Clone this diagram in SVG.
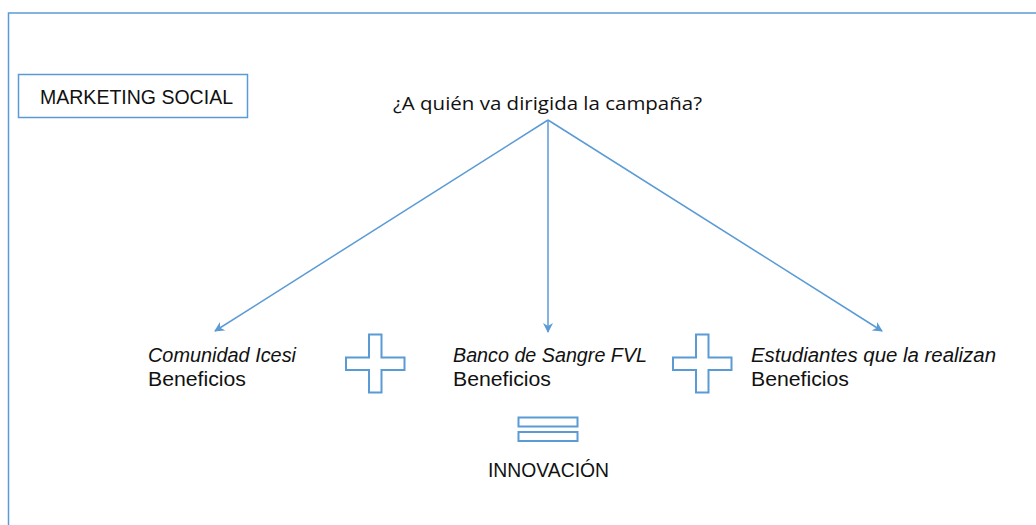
<svg xmlns="http://www.w3.org/2000/svg" width="1036" height="525" viewBox="0 0 1036 525">
<style>
.ln{fill:none;stroke:#5b9bd5;stroke-width:1.5}
.sh{fill:#fff;stroke:#5b9bd5;stroke-width:2}
.t{font-family:"Liberation Sans",Arial,sans-serif;font-size:20px;fill:#111}
.i{font-style:italic}
.q{font-family:"Open Sans","Liberation Sans",sans-serif;font-size:18px;fill:#111}
</style>
<defs>
<marker id="ah" viewBox="0 0 10 10" refX="9" refY="5" markerWidth="10" markerHeight="10" markerUnits="userSpaceOnUse" orient="auto">
<path d="M0,0 L10,5 L0,10 L3,5 Z" fill="#5b9bd5"/>
</marker>
</defs>
<rect x="8.5" y="13" width="1040" height="530" class="ln" stroke-width="2"/>
<g id="marketing">
<rect x="18.5" y="74.5" width="229" height="43" class="ln"/>
<text x="40" y="104" class="t" textLength="193" lengthAdjust="spacingAndGlyphs">MARKETING SOCIAL</text>
</g>
<g id="pregunta">
<text x="393" y="110" class="q" textLength="309" lengthAdjust="spacingAndGlyphs">¿A quién va dirigida la campaña?</text>
</g>
<g id="connectors">
<line x1="548" y1="120" x2="215" y2="331" class="ln" marker-end="url(#ah)"/>
<line x1="548" y1="120" x2="548" y2="332" class="ln" marker-end="url(#ah)"/>
<line x1="548" y1="120" x2="882" y2="331" class="ln" marker-end="url(#ah)"/>
</g>
<g id="comunidad">
<text x="148" y="362" class="t i" textLength="148" lengthAdjust="spacingAndGlyphs">Comunidad Icesi</text>
<text x="148" y="386" class="t" textLength="98" lengthAdjust="spacingAndGlyphs">Beneficios</text>
</g>
<g id="banco">
<text x="453" y="362" class="t i" textLength="194" lengthAdjust="spacingAndGlyphs">Banco de Sangre FVL</text>
<text x="453" y="386" class="t" textLength="98" lengthAdjust="spacingAndGlyphs">Beneficios</text>
</g>
<g id="estudiantes">
<text x="751" y="362" class="t i" textLength="245" lengthAdjust="spacingAndGlyphs">Estudiantes que la realizan</text>
<text x="751" y="386" class="t" textLength="98" lengthAdjust="spacingAndGlyphs">Beneficios</text>
</g>
<g id="plus1">
<path d="M369,334.5 H381.5 V357.5 H404.5 V370 H381.5 V392.5 H369 V370 H346 V357.5 H369 Z" class="sh"/>
</g>
<g id="plus2">
<path d="M696,334.5 H708.5 V357.5 H731.5 V370 H708.5 V392.5 H696 V370 H673 V357.5 H696 Z" class="sh"/>
</g>
<g id="igual">
<rect x="518.5" y="417.5" width="59" height="9" class="sh"/>
<rect x="518.5" y="432" width="59" height="9" class="sh"/>
</g>
<g id="innovacion">
<text x="488" y="477" class="t" textLength="121" lengthAdjust="spacingAndGlyphs">INNOVACIÓN</text>
</g>
</svg>
